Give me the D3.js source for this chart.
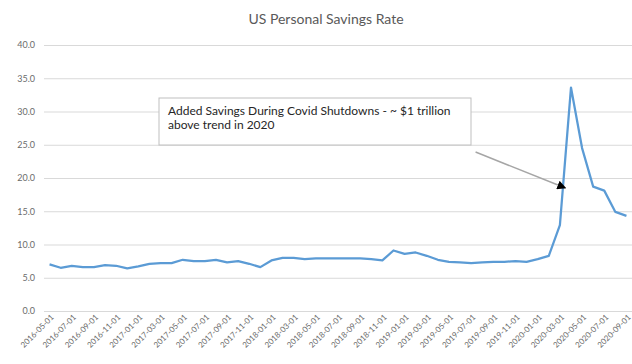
<!DOCTYPE html>
<html><head><meta charset="utf-8">
<script src="https://cdn.jsdelivr.net/npm/d3@7/dist/d3.min.js"></script>
<style>
html,body{margin:0;padding:0;background:#fff;}
svg{display:block;font-family:Lato,"Open Sans",sans-serif;}
</style></head>
<body>
<svg id="chart" width="632" height="364"></svg>
<script>
const title = "US Personal Savings Rate";
const months = [
 "2016-05-01","2016-06-01","2016-07-01","2016-08-01","2016-09-01","2016-10-01","2016-11-01","2016-12-01",
 "2017-01-01","2017-02-01","2017-03-01","2017-04-01","2017-05-01","2017-06-01","2017-07-01","2017-08-01","2017-09-01","2017-10-01","2017-11-01","2017-12-01",
 "2018-01-01","2018-02-01","2018-03-01","2018-04-01","2018-05-01","2018-06-01","2018-07-01","2018-08-01","2018-09-01","2018-10-01","2018-11-01","2018-12-01",
 "2019-01-01","2019-02-01","2019-03-01","2019-04-01","2019-05-01","2019-06-01","2019-07-01","2019-08-01","2019-09-01","2019-10-01","2019-11-01","2019-12-01",
 "2020-01-01","2020-02-01","2020-03-01","2020-04-01","2020-05-01","2020-06-01","2020-07-01","2020-08-01","2020-09-01"
];
const savingsRate = [
 7.0,6.5,6.8,6.6,6.6,6.9,6.8,6.4,
 6.7,7.1,7.2,7.2,7.7,7.5,7.5,7.7,7.3,7.5,7.1,6.6,
 7.6,8.0,8.0,7.8,7.9,7.9,7.9,7.9,7.9,7.8,7.6,9.1,
 8.6,8.8,8.3,7.7,7.4,7.3,7.2,7.3,7.4,7.4,7.5,7.4,
 7.8,8.3,12.9,33.6,24.5,18.7,18.1,14.9,14.3
];
const yTicks = [0,5,10,15,20,25,30,35,40];
const tickLabels = months.filter((d,i)=>i%2===0);
const annotationLines = ["Added Savings During Covid Shutdowns - ~ $1 trillion","above trend in 2020"];

const svg = d3.select("#chart");
const m = {left:44, right:0, top:45, bottom:53};
const W = 632, H = 364;
const x = d3.scaleBand().domain(months).range([m.left, W - m.right]);
const y = d3.scaleLinear().domain([0,40]).range([H - m.bottom, m.top]);
const cx = d => x(d) + x.bandwidth()/2;

svg.append("text").attr("x",326).attr("y",24).attr("text-anchor","middle")
  .attr("font-size",14).attr("fill","#595959").text(title);

// gridlines + y axis
const yAxis = d3.axisLeft(y).tickValues(yTicks).tickFormat(d3.format(".1f")).tickSize(-(W - m.left - m.right)).tickPadding(9);
const gy = svg.append("g").attr("transform",`translate(${m.left},0)`).call(yAxis);
gy.select(".domain").remove();
gy.selectAll(".tick line").attr("stroke","#d9d9d9").attr("stroke-width",1);
gy.selectAll(".tick text").attr("fill","#6b6b6b").attr("font-size",9).attr("font-family","Lato,sans-serif");

// x axis
const xAxis = d3.axisBottom(x).tickValues(tickLabels).tickSize(0).tickPadding(4);
const gx = svg.append("g").attr("transform",`translate(0,${y(0)})`).call(xAxis);
gx.select(".domain").attr("stroke","#d9d9d9");
gx.selectAll(".tick text").attr("fill","#6b6b6b").attr("font-size",8).attr("font-family","Lato,sans-serif")
  .attr("text-anchor","end").attr("dy","0.35em")
  .attr("transform","translate(0,2) rotate(-45)");

// line
const line = d3.line().x((d,i)=>cx(months[i])).y(d=>y(d));
svg.append("path").datum(savingsRate).attr("d",line)
  .attr("fill","none").attr("stroke","#5b9bd5").attr("stroke-width",2.25).attr("stroke-linejoin","round");

// annotation
const step = x.step();
const ax0 = cx(months[38]) + 0.4*step, ay0 = y(23.9);
const ax1 = cx(months[46]) + 0.5*step, ay1 = y(18.5);
svg.append("defs").append("marker").attr("id","arr").attr("viewBox","0 0 10 10")
  .attr("refX",9).attr("refY",5).attr("markerWidth",6).attr("markerHeight",6).attr("orient","auto")
  .append("path").attr("d","M0,0L10,5L0,10z").attr("fill","#000");
svg.append("line").attr("x1",ax0).attr("y1",ay0).attr("x2",ax1).attr("y2",ay1)
  .attr("stroke","#a6a6a6").attr("stroke-width",1.5).attr("marker-end","url(#arr)");
svg.append("rect").attr("x",159).attr("y",98).attr("width",312).attr("height",47)
  .attr("fill","#fff").attr("stroke","#bfbfbf").attr("stroke-width",1);
const t = svg.append("text").attr("font-size",12).attr("fill","#262626");
annotationLines.forEach((s,i)=>t.append("tspan").attr("x",168).attr("y",115+i*14).text(s));
</script>
</body></html>
